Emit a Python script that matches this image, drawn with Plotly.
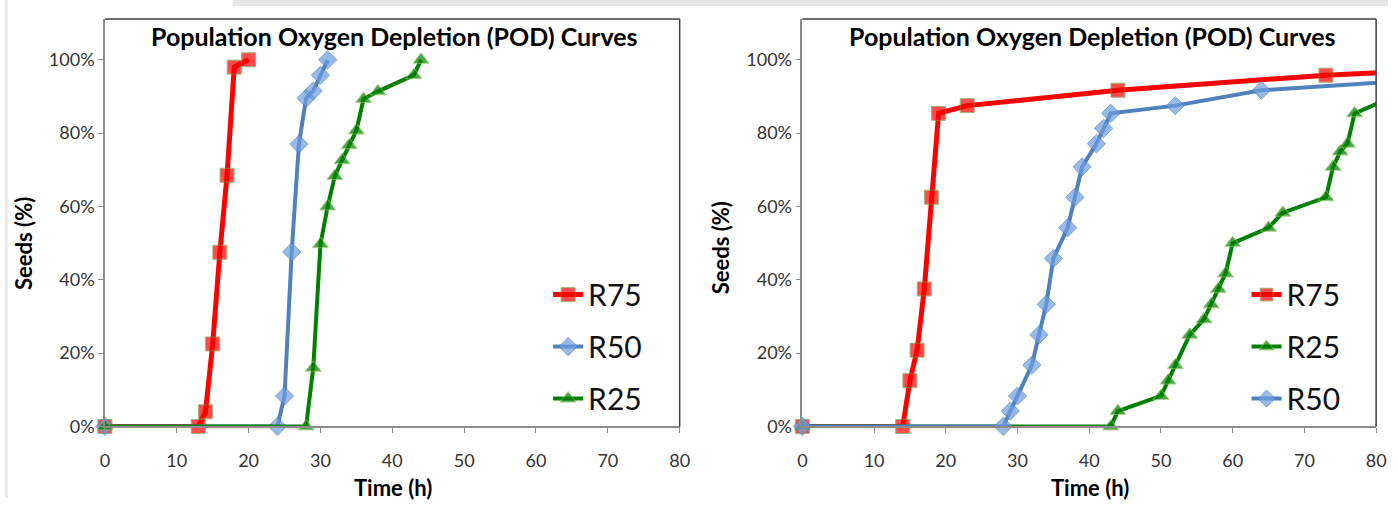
import plotly.graph_objects as go

# ---------------- data ----------------
L_R75_t = [0, 13, 14, 15, 16, 17, 18, 20]
L_R75_v = [0, 0, 4, 22.5, 47.5, 68.5, 98, 100]
L_R50_t = [0, 24, 25, 26, 27, 28, 29, 30, 31]
L_R50_v = [0, 0, 8.3, 47.6, 77, 89.5, 91.5, 95.8, 100]
L_R25_t = [0, 28, 29, 30, 31, 32, 33, 34, 35, 36, 38, 43, 44]
L_R25_v = [0, 0, 16, 49.7, 60, 68.3, 72.6, 76.7, 80.7, 89.3, 91.4, 95.8, 100]

# Right chart (last point of each series lies beyond the 80 h axis end)
R_R75_t = [0, 14, 15, 16, 17, 18, 19, 23, 44, 73, 96]
R_R75_v = [0, 0, 12.5, 20.8, 37.5, 62.5, 85.4, 87.5, 91.7, 95.8, 97.9]
R_R50_t = [0, 28, 29, 30, 32, 33, 34, 35, 37, 38, 39, 41, 42, 43, 52, 64, 96]
R_R50_v = [0, 0, 4.2, 8.3, 16.7, 25, 33.3, 45.8, 54.2, 62.5, 70.8, 77.1, 81.3, 85.4, 87.5, 91.7, 95.8]
R_R25_t = [0, 43, 44, 50, 51, 52, 54, 56, 57, 58, 59, 60, 65, 67, 73, 74, 75, 76, 77, 82]
R_R25_v = [0, 0, 4.2, 8.3, 12.5, 16.7, 25, 29.2, 33.3, 37.5, 41.7, 50, 54.2, 58.3, 62.5, 70.8, 75, 77.1, 85.4, 89.6]

x_ticks = [0, 10, 20, 30, 40, 50, 60, 70, 80]
y_ticks = [0, 20, 40, 60, 80, 100]
y_tick_labels = ["0%", "20%", "40%", "60%", "80%", "100%"]
title_text = "Population Oxygen Depletion (POD) Curves"
x_title = "Time (h)"
y_title = "Seeds (%)"

W, H = 1398, 508
FONT = "Lato, 'Liberation Sans', sans-serif"


def px_x(p):
    return p / W


def px_y(p):
    return 1 - p / H


Y_BOT, Y_TOP = 435, 19.5
LEFT = (101, 682)
RIGHT = (806, 1386)
XMAX = 80

styles = {
    "R75": dict(line=dict(color="#ff0000", width=5),
                marker=dict(symbol="square", size=14, color="#ff0000",
                            line=dict(color="#76923c", width=1))),
    "R50": dict(line=dict(color="#4f81bd", width=4),
                marker=dict(symbol="diamond", size=14, color="#6d9de0",
                            line=dict(color="#4a7ebb", width=1))),
    "R25": dict(line=dict(color="#008000", width=4),
                marker=dict(symbol="triangle-up", size=14, color="#008000",
                            line=dict(color="#8fbf5f", width=1))),
}

fig = go.Figure()


def add(name, t, v, xa, ya, legend, group):
    st = styles[name]
    m = dict(st["marker"])
    m["size"] = [m["size"] if ti <= XMAX else 0 for ti in t]
    fig.add_trace(go.Scatter(
        x=t, y=v, name=name, mode="lines+markers",
        line=st["line"], marker=m, xaxis=xa, yaxis=ya,
        cliponaxis=False, legend=legend, legendgroup=group,
        hoverinfo="skip",
    ))


add("R75", L_R75_t, L_R75_v, "x", "y", "legend", "a1")
add("R50", L_R50_t, L_R50_v, "x", "y", "legend", "a2")
add("R25", L_R25_t, L_R25_v, "x", "y", "legend", "a3")
add("R75", R_R75_t, R_R75_v, "x2", "y2", "legend2", "b1")
add("R25", R_R25_t, R_R25_v, "x2", "y2", "legend2", "b2")
add("R50", R_R50_t, R_R50_v, "x2", "y2", "legend2", "b3")

ydom = [px_y(Y_BOT), px_y(Y_TOP)]
yrange = [0, (Y_BOT - Y_TOP) / ((Y_BOT - 61) / 100)]

xax = dict(range=[0, XMAX], tickvals=x_ticks, showgrid=False, zeroline=False,
           showline=True, linecolor="#8c8c8c", linewidth=1.5,
           ticks="outside", ticklen=5, tickcolor="#8c8c8c", ticklabelstandoff=12,
           tickfont=dict(family=FONT, size=18, color="#333333"), fixedrange=True)
yax = dict(range=yrange, tickvals=y_ticks, ticktext=y_tick_labels,
           showgrid=False, zeroline=False,
           showline=True, linecolor="#8c8c8c", linewidth=1.5,
           ticks="outside", ticklen=5, tickcolor="#8c8c8c",
           tickfont=dict(family=FONT, size=18, color="#333333"), fixedrange=True)

legend_common = dict(font=dict(family=FONT, size=30, color="#111111"),
                     bgcolor="rgba(0,0,0,0)", borderwidth=0,
                     traceorder="grouped", tracegroupgap=10,
                     xanchor="left", yanchor="top", itemsizing="trace")

# Initial size leaves room for the browser's default 8px body margin; the post
# script removes the margin and grows the figure to the full 1398x508.
fig.update_layout(
    width=W - 16, height=H - 16,
    margin=dict(l=0, r=0, t=0, b=0),
    paper_bgcolor="white", plot_bgcolor="white",
    xaxis=dict(xax, domain=[px_x(LEFT[0]), px_x(LEFT[1])], anchor="y"),
    yaxis=dict(yax, domain=ydom, anchor="x"),
    xaxis2=dict(xax, domain=[px_x(RIGHT[0]), px_x(RIGHT[1])], anchor="y2"),
    yaxis2=dict(yax, domain=ydom, anchor="x2"),
    legend=dict(legend_common, x=px_x(549), y=px_y(274)),
    legend2=dict(legend_common, x=px_x(1255), y=px_y(274)),
    showlegend=True,
)

shapes = [
    # faint photographed background strips (top and left edge)
    dict(type="rect", xref="paper", yref="paper", x0=px_x(230), x1=1, y0=px_y(6), y1=1,
         fillcolor="#e6e6e6", line=dict(width=0), layer="below"),
    dict(type="rect", xref="paper", yref="paper", x0=0, x1=px_x(3), y0=0, y1=1,
         fillcolor="#ececec", line=dict(width=0), layer="below"),
]
for (a, b) in (LEFT, RIGHT):
    shapes.append(dict(type="line", xref="paper", yref="paper",
                       x0=px_x(a), x1=px_x(b), y0=px_y(Y_TOP), y1=px_y(Y_TOP),
                       line=dict(color="#404040", width=1.5)))
    shapes.append(dict(type="line", xref="paper", yref="paper",
                       x0=px_x(b), x1=px_x(b), y0=px_y(Y_TOP), y1=px_y(Y_BOT),
                       line=dict(color="#404040", width=1.5)))
fig.update_layout(shapes=shapes)

ann = []
for cx_title, cx_time, cx_seeds, cy_seeds in ((394, 392, 18, 248), (1099, 1097, 723, 253)):
    ann.append(dict(text="<b>%s</b>" % title_text, x=px_x(cx_title), y=px_y(37),
                    xref="paper", yref="paper", showarrow=False,
                    xanchor="center", yanchor="middle",
                    font=dict(family=FONT, size=25, color="#000000")))
    ann.append(dict(text="<b>%s</b>" % x_title, x=px_x(cx_time), y=px_y(497),
                    xref="paper", yref="paper", showarrow=False,
                    xanchor="center", yanchor="middle",
                    font=dict(family=FONT, size=22, color="#000000")))
    ann.append(dict(text="<b>%s</b>" % y_title, x=px_x(cx_seeds), y=px_y(cy_seeds),
                    xref="paper", yref="paper", showarrow=False, textangle=-90,
                    xanchor="center", yanchor="middle",
                    font=dict(family=FONT, size=22, color="#000000")))
fig.update_layout(annotations=ann)

post = (
    "document.documentElement.style.margin='0';document.body.style.margin='0';"
    "document.documentElement.style.overflow='hidden';document.body.style.overflow='hidden';"
    "var gd=document.getElementById('{plot_id}');"
    "gd.style.width='%dpx';gd.style.height='%dpx';"
    "Plotly.relayout(gd,{width:%d,height:%d});" % (W, H, W, H)
)

fig.write_html("out.html", config={"displayModeBar": False}, post_script=post)
